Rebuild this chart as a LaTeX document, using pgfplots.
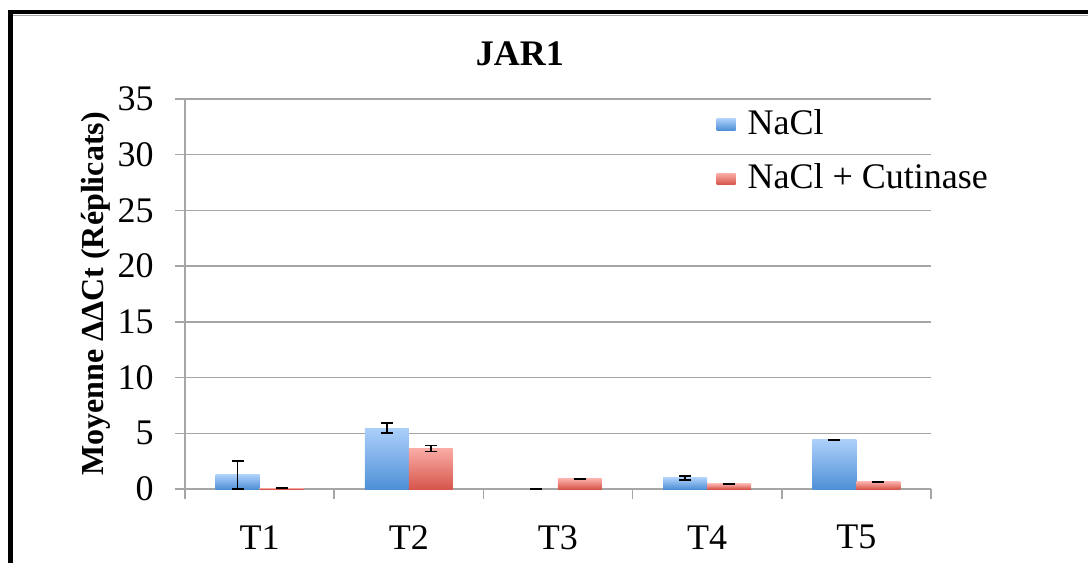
\documentclass[border=0pt]{standalone}
\usepackage{pgfplots}
\pgfplotsset{compat=1.18}
\usepackage{fontspec}
\setmainfont{Liberation Serif}
\definecolor{bluetop}{RGB}{172,207,250}
\definecolor{bluebot}{RGB}{78,144,214}
\definecolor{redtop}{RGB}{250,172,166}
\definecolor{redbot}{RGB}{214,86,76}
\definecolor{gridgray}{RGB}{166,166,166}
\pgfplotsset{
  bluebar/.style={ybar, bar width=22pt, bar shift=-11pt, draw=none, top color=bluetop, bottom color=bluebot,
    legend image code/.code={\shade[top color=bluetop,bottom color=bluebot] (0pt,-2.8pt) rectangle (9.5pt,2.8pt);}},
  redbar/.style={ybar, bar width=22pt, bar shift=11pt, draw=none, top color=redtop, bottom color=redbot,
    legend image code/.code={\shade[top color=redtop,bottom color=redbot] (0pt,-2.8pt) rectangle (9.5pt,2.8pt);}},
  errplot/.style={draw=none, mark=none, forget plot, error bars/.cd, y dir=both, y explicit},
}
\begin{document}
\fontsize{18}{21}\selectfont
\begin{tikzpicture}
\useasboundingbox (0,0) rectangle (544pt,281.5pt);
\draw[line width=2.2pt] (5.3pt,0) -- (5.3pt,275.6pt) -- (544pt,275.6pt);
\draw[gridgray, line width=0.6pt] (6.5pt,273.7pt) -- (544pt,273.7pt);
\begin{axis}[
  at={(92.5pt,37pt)}, anchor=south west,
  scale only axis, width=373pt, height=195pt,
  xmin=0.5, xmax=5.5, ymin=0, ymax=35,
  axis x line*=bottom, axis y line*=left,
  axis line style={gridgray, line width=0.75pt},
  xtick={1,2,3,4,5}, xticklabels={T1,T2,T3,T4,T5},
  minor xtick={0.5,1.5,2.5,3.5,4.5,5.5},
  ytick={0,5,...,35},
  ymajorgrids, grid style={gridgray, line width=0.75pt},
  tick align=outside,
  major tick length=5pt, minor tick length=5pt,
  major x tick style={draw=none},
  minor x tick style={gridgray, line width=0.75pt},
  y tick style={gridgray, line width=0.75pt},
  tick label style={font=\fontsize{18}{21}\selectfont, text=black},
  yticklabel style={xshift=-4.5pt},
  xticklabel style={yshift=-7pt},
  /pgf/number format/assume math mode=true,
  title={JAR1},
  title style={at={(axis description cs:0.449,1.085)}, anchor=center, font=\bfseries\fontsize{18}{21}\selectfont},
  ylabel={Moyenne ΔΔCt (Réplicats)},
  ylabel style={at={(axis description cs:-0.119,0.5)}, anchor=center, font=\bfseries\fontsize{16}{19}\selectfont},
  legend style={at={(axis description cs:0.712,0.985)}, anchor=north west, draw=none, fill=none,
    font=\fontsize{18}{21}\selectfont, row sep=8pt, inner sep=0pt,
    /tikz/every odd column/.append style={column sep=4pt}},
  legend cell align=left,
  error bars/error bar style={black, line width=0.8pt},
  error bars/error mark options={black, rotate=90, mark size=3pt, line width=0.8pt},
]
\addplot[bluebar] coordinates {(1,1.26)};
\addlegendentry{NaCl}
\addplot[redbar] coordinates {(1,0.1)};
\addlegendentry{NaCl + Cutinase}
\addplot[bluebar, forget plot] coordinates {(2,5.45)};
\addplot[bluebar, forget plot] coordinates {(3,0)};
\addplot[bluebar, forget plot] coordinates {(4,0.99)};
\addplot[bluebar, forget plot] coordinates {(5,4.4)};
\addplot[redbar, forget plot] coordinates {(2,3.65)};
\addplot[redbar, forget plot] coordinates {(3,0.9)};
\addplot[redbar, forget plot] coordinates {(4,0.45)};
\addplot[redbar, forget plot] coordinates {(5,0.63)};
% error bars, at the centres of the bars (category -/+ 0.1475)
\addplot[errplot] coordinates {(0.8525,1.26) +- (0,1.28) (1.8525,5.45) +- (0,0.45) (2.8525,0) +- (0,0.02) (3.8525,0.99) +- (0,0.17) (4.8525,4.4) +- (0,0.05)};
\addplot[errplot] coordinates {(1.1475,0.1) +- (0,0.02) (2.1475,3.65) +- (0,0.27) (3.1475,0.9) +- (0,0.05) (4.1475,0.45) +- (0,0.05) (5.1475,0.63) +- (0,0.05)};
\end{axis}
\end{tikzpicture}
\end{document}
